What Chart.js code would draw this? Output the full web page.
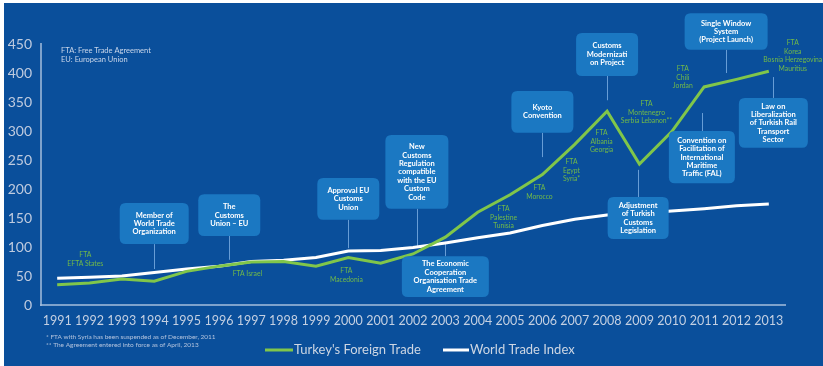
<!DOCTYPE html>
<html>
<head>
<meta charset="utf-8">
<script src="https://cdn.jsdelivr.net/npm/chart.js@4"></script>
<style>
  html, body { margin: 0; padding: 0; background: #ffffff; }
  #wrap { width: 823px; height: 366px; position: relative; }
</style>
</head>
<body>
<div id="wrap"><canvas id="c" width="823" height="366"></canvas></div>
<script>
// Years on the horizontal axis
const years = ['1991','1992','1993','1994','1995','1996','1997','1998','1999','2000','2001','2002',
               '2003','2004','2005','2006','2007','2008','2009','2010','2011','2012','2013'];

// Turkey's foreign trade volume (billion USD)
const turkeyTrade = [35, 38, 45, 41, 58, 67, 74, 75, 67, 82, 72, 88,
                     117, 160, 190, 225, 277, 334, 243, 299, 376, 389, 403];

// World trade index
const worldTrade = [46, 48, 50, 56, 62, 67, 75, 77, 82, 93, 94, 99,
                    107, 116, 124, 137, 148, 155, 158, 162, 166, 171, 174];

// Value-axis ticks
const yTicks = [0, 50, 100, 150, 200, 250, 300, 350, 400, 450];

// Milestone call-outs: x = year index, top/bottom = value at the box edges,
// tip = value where the leader line ends
const milestones = [
  { x: 3.0,   w: 69, top: 176, bottom: 105, tip: 62,  lines: ['Member of', 'World Trade', 'Organization'] },
  { x: 5.32,  w: 62, top: 191, bottom: 119, tip: 78,  lines: ['The', 'Customs', 'Union \u2013 EU'] },
  { x: 9.0,   w: 62, top: 219, bottom: 147, tip: 98,  lines: ['Approval EU', 'Customs', 'Union'] },
  { x: 11.12, w: 63, top: 293, bottom: 166, tip: 100, lines: ['New', 'Customs', 'Regulation', 'compatible', 'with the EU', 'Custom', 'Code'] },
  { x: 12.0,  w: 87, top: 84,  bottom: 14,  tip: 109, lines: ['The Economic', 'Cooperation', 'Organisation Trade', 'Agreement'] },
  { x: 15.0,  w: 62, top: 369, bottom: 297, tip: 255, lines: ['Kyoto', 'Convention'] },
  { x: 17.0,  w: 62, top: 469, bottom: 395, tip: 353, lines: ['Customs', 'Modernizati', 'on Project'] },
  { x: 20.68, w: 83, top: 503, bottom: 440, tip: 400, lines: ['Single Window', 'System', '(Project Launch)'] },
  { x: 22.14, w: 69, top: 357, bottom: 271, tip: 393, lines: ['Law on', 'Liberalization', 'of Turkish Rail', 'Transport', 'Sector'] },
  { x: 19.93, w: 66, top: 300, bottom: 210, tip: 331, lines: ['Convention on', 'Facilitation of', 'International', 'Maritime', 'Traffic (FAL)'] },
  { x: 17.96, w: 61, top: 186, bottom: 114, tip: 233, lines: ['Adjustment', 'of Turkish', 'Customs', 'Legislation'] }
];

// Free trade agreement notes placed along the trade curve
const ftaNotes = [
  { x: 0.87,  y: 86,  lines: ['FTA', 'EFTA States'] },
  { x: 5.88,  y: 53,  lines: ['FTA Israel'] },
  { x: 8.94,  y: 59,  lines: ['FTA', 'Macedonia'] },
  { x: 13.8,  y: 166, lines: ['FTA', 'Palestine', 'Tunisia'] },
  { x: 14.91, y: 202, lines: ['FTA', 'Morocco'] },
  { x: 15.9,  y: 247, lines: ['FTA', 'Egypt', 'Syria*'] },
  { x: 16.83, y: 297, lines: ['FTA', 'Albania', 'Georgia'] },
  { x: 18.22, y: 347, lines: ['FTA', 'Montenegro', 'Serbia Lebanon**'] },
  { x: 19.34, y: 407, lines: ['FTA', 'Chili', 'Jordan'] },
  { x: 22.74, y: 452, lines: ['FTA', 'Korea', 'Bosnia Herzegovina', 'Mauritius'] }
];

const abbreviations = ['FTA: Free Trade Agreement', 'EU: European Union'];
const footnotes = ['* FTA with Syria has been suspended as of December, 2011',
                   '** The Agreement entered into force as of April, 2013'];

const BG = '#0a4f9b';
const GREEN = '#80c64a';
const FONT = 'Lato, "Open Sans", sans-serif';

function roundRect(ctx, x, y, w, h, r) {
  ctx.beginPath();
  ctx.moveTo(x + r, y);
  ctx.lineTo(x + w - r, y);
  ctx.quadraticCurveTo(x + w, y, x + w, y + r);
  ctx.lineTo(x + w, y + h - r);
  ctx.quadraticCurveTo(x + w, y + h, x + w - r, y + h);
  ctx.lineTo(x + r, y + h);
  ctx.quadraticCurveTo(x, y + h, x, y + h - r);
  ctx.lineTo(x, y + r);
  ctx.quadraticCurveTo(x, y, x + r, y);
  ctx.closePath();
}

// Blue panel behind everything
const panel = {
  id: 'panel',
  beforeDraw(chart) {
    const ctx = chart.ctx;
    ctx.save();
    ctx.fillStyle = BG;
    ctx.fillRect(4, 3, chart.width - 4, chart.height - 3);
    ctx.restore();
  }
};

// Leader lines sit under the curves, boxes and notes on top
const callouts = {
  id: 'callouts',
  beforeDatasetsDraw(chart) {
    const { ctx, scales: { x, y } } = chart;
    ctx.save();
    ctx.strokeStyle = 'rgba(120,170,225,0.85)';
    ctx.lineWidth = 1;
    milestones.forEach(m => {
      const px = Math.round(x.getPixelForValue(m.x)) + 0.5;
      const edge = m.tip > m.top ? y.getPixelForValue(m.top) : y.getPixelForValue(m.bottom);
      ctx.beginPath();
      ctx.moveTo(px, edge);
      ctx.lineTo(px, y.getPixelForValue(m.tip));
      ctx.stroke();
    });
    ctx.restore();
  },
  afterDatasetsDraw(chart) {
    const { ctx, scales: { x, y } } = chart;
    ctx.save();
    milestones.forEach(m => {
      const cx = x.getPixelForValue(m.x);
      const top = y.getPixelForValue(m.top);
      const bot = y.getPixelForValue(m.bottom);
      const h = bot - top;
      roundRect(ctx, cx - m.w / 2, top, m.w, h, 6);
      ctx.fillStyle = '#1b78c2';
      ctx.fill();
      ctx.fillStyle = '#ffffff';
      ctx.font = 'bold 7.5px ' + FONT;
      ctx.textAlign = 'center';
      ctx.textBaseline = 'middle';
      const lh = 8.4;
      const start = top + h / 2 - (m.lines.length - 1) * lh / 2;
      m.lines.forEach((t, i) => ctx.fillText(t, cx, start + i * lh));
    });

    ctx.fillStyle = '#72ba48';
    ctx.font = '6.8px ' + FONT;
    ctx.textAlign = 'center';
    ctx.textBaseline = 'middle';
    ftaNotes.forEach(n => {
      const cx = x.getPixelForValue(n.x);
      const y0 = y.getPixelForValue(n.y);
      n.lines.forEach((t, i) => ctx.fillText(t, cx, y0 + i * 8.6));
    });
    ctx.restore();
  },
  afterDraw(chart) {
    const ctx = chart.ctx;
    ctx.save();
    ctx.textAlign = 'left';
    ctx.textBaseline = 'middle';
    ctx.fillStyle = '#c9d6ea';
    ctx.font = '7.5px ' + FONT;
    abbreviations.forEach((t, i) => ctx.fillText(t, 61, 51 + i * 9));

    ctx.fillStyle = '#b4c4de';
    ctx.font = '6.5px ' + FONT;
    footnotes.forEach((t, i) => ctx.fillText(t, 46, 337 + i * 8));

    // Series key
    const keys = [
      { ds: chart.data.datasets[0], x0: 265, x1: 293 },
      { ds: chart.data.datasets[1], x0: 443, x1: 469 }
    ];
    ctx.font = '13px ' + FONT;
    keys.forEach(k => {
      ctx.strokeStyle = k.ds.borderColor;
      ctx.lineWidth = 3;
      ctx.beginPath();
      ctx.moveTo(k.x0, 350);
      ctx.lineTo(k.x1, 350);
      ctx.stroke();
      ctx.fillStyle = '#cdd6e3';
      ctx.fillText(k.ds.label, k.x1 + 1, 350);
    });
    ctx.restore();
  }
};

new Chart(document.getElementById('c'), {
  type: 'line',
  data: {
    labels: years,
    datasets: [
      { label: "Turkey's Foreign Trade", data: turkeyTrade, borderColor: GREEN, borderWidth: 3,
        pointRadius: 0, tension: 0, fill: false },
      { label: 'World Trade Index', data: worldTrade, borderColor: '#ffffff', borderWidth: 3,
        pointRadius: 0, tension: 0, fill: false }
    ]
  },
  options: {
    responsive: false,
    animation: false,
    layout: { padding: { top: 44, right: 38, left: 0, bottom: 0 } },
    plugins: { legend: { display: false }, tooltip: { enabled: false } },
    scales: {
      x: {
        offset: true,
        grid: { display: false, drawTicks: false },
        border: { display: true, color: 'rgba(165,190,220,0.75)', width: 2 },
        ticks: { color: '#c4d0e2', font: { family: FONT, size: 12.5 }, padding: 8, maxRotation: 0, autoSkip: false },
        afterFit(s) { s.height = 61; }
      },
      y: {
        min: 0,
        max: 450,
        afterBuildTicks(s) { s.ticks = yTicks.map(v => ({ value: v })); },
        grid: { display: false, drawTicks: false },
        border: { display: true, color: 'rgba(165,190,220,0.75)', width: 2 },
        ticks: { color: '#bfcbdf', font: { family: FONT, size: 14 }, padding: 9 },
        afterFit(s) { s.width = 41; }
      }
    }
  },
  plugins: [panel, callouts]
});
</script>
</body>
</html>
